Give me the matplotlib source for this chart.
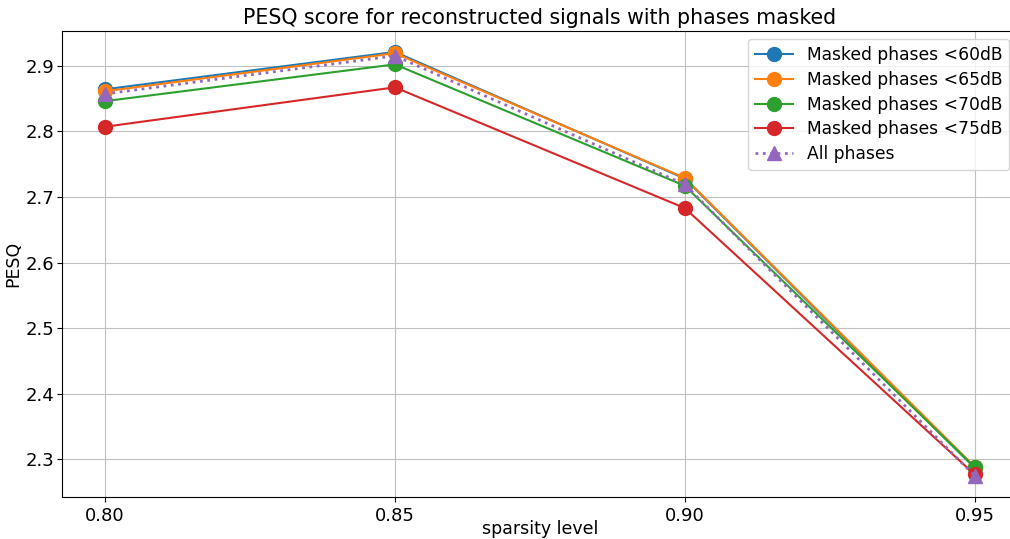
import matplotlib
matplotlib.use("Agg")
import matplotlib.pyplot as plt

sparsity = [0.80, 0.85, 0.90, 0.95]

pesq_60 = [2.864, 2.921, 2.728, 2.287]
pesq_65 = [2.861, 2.919, 2.729, 2.289]
pesq_70 = [2.846, 2.902, 2.717, 2.288]
pesq_75 = [2.807, 2.867, 2.683, 2.277]
pesq_all = [2.857, 2.915, 2.719, 2.275]

labels = ["Masked phases <60dB", "Masked phases <65dB",
          "Masked phases <70dB", "Masked phases <75dB"]

plt.rcParams['font.size'] = 13

fig, ax = plt.subplots(figsize=(10.1, 5.39), dpi=100)

for vals, lab in zip([pesq_60, pesq_65, pesq_70, pesq_75], labels):
    ax.plot(sparsity, vals, marker='o', markersize=10, label=lab)
ax.plot(sparsity, pesq_all, marker='^', markersize=10, linestyle=':',
        linewidth=2, label='All phases')

ax.set_xticks(sparsity)
ax.set_xticklabels(['0.80', '0.85', '0.90', '0.95'])
ax.tick_params(axis='y', pad=2)
ax.grid(True, color='#c0c0c0', linewidth=0.8)
ax.set_xlabel('sparsity level', fontsize=12.5, labelpad=-3.5)
ax.set_ylabel('PESQ', fontsize=12.5, labelpad=2)
ax.set_title('PESQ score for reconstructed signals with phases masked',
             fontsize=14.8, pad=5)
ax.legend(loc='upper right', fontsize=12.3, handlelength=2.2,
          labelspacing=0.4,
          bbox_to_anchor=(1009 / 1010, 1 - 39 / 539),
          bbox_transform=fig.transFigure, borderaxespad=0)

# the axes runs slightly past the right edge of the canvas
fig.subplots_adjust(left=0.061, right=1.008, top=0.943, bottom=0.078)
fig.savefig('out.png')
